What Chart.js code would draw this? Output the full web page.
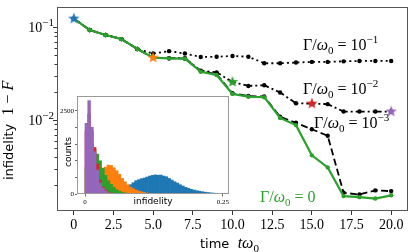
<!DOCTYPE html>
<html>
<head>
<meta charset="utf-8">
<script src="https://cdn.jsdelivr.net/npm/chart.js@4.4.1/dist/chart.umd.min.js"></script>
<style>
  html, body { margin: 0; padding: 0; background: #fff; }
  #wrap { position: relative; width: 415px; height: 252px; }
  #main { position: absolute; left: 0; top: 0; }
  #inset { position: absolute; left: 58px; top: 88px; }
</style>
</head>
<body>
<div id="wrap">
  <canvas id="main" width="415" height="252"></canvas>
  <canvas id="inset" width="176" height="124"></canvas>
</div>
<script>
// main panel: infidelity vs time, one curve per decay rate
const times = [0, 1, 2, 3, 4, 5, 6, 7, 8, 9, 10, 11, 12, 13, 14, 15, 16, 17, 18, 19, 20];
const gammaZero = [0.1244, 0.0937, 0.0829, 0.0748, 0.0586, 0.0472, 0.0464, 0.0460, 0.0333, 0.0307, 0.0192,
  0.0179, 0.0177, 0.01057, 0.00885, 0.00418, 0.00310, 0.00152, 0.00148, 0.00143, 0.00155];
const gamma1e3 = [0.1244, 0.0937, 0.0829, 0.0748, 0.0586, 0.0472, 0.0464, 0.0462, 0.0338, 0.0312, 0.0195,
  0.0182, 0.0180, 0.0109, 0.00937, 0.00798, 0.00679, 0.00165, 0.00158, 0.00175, 0.00172];
const gamma1e2 = [0.1244, 0.0937, 0.0829, 0.0748, 0.0586, 0.0472, 0.0466, 0.0465, 0.0342, 0.0328, 0.0258,
  0.0234, 0.0238, 0.0199, 0.0152, 0.0151, 0.0149, 0.0124, 0.0124, 0.0124, 0.0124];
const gamma1e1 = [0.1244, 0.0937, 0.0829, 0.0748, 0.0586, 0.0523, 0.0555, 0.0523, 0.0480, 0.0483, 0.0492,
  0.0483, 0.0411, 0.0411, 0.0418, 0.0425, 0.0425, 0.0431, 0.0435, 0.0435, 0.0435];
const starTimes = [0, 5, 10, 15, 20];
const starValues = [0.1244, 0.0472, 0.0258, 0.0151, 0.0124];
const starColors = ["#1f77b4", "#ff7f0e", "#2ca02c", "#d62728", "#9467bd"];
const xTicks = [0, 2.5, 5, 7.5, 10, 12.5, 15, 17.5, 20];
const yMajorTicks = [0.01, 0.1];
const yMajorExps = ["\u22122", "\u22121"];
const yMinorTicks = [0.002, 0.003, 0.004, 0.005, 0.006, 0.007, 0.008, 0.009,
  0.02, 0.03, 0.04, 0.05, 0.06, 0.07, 0.08, 0.09];

// inset: histograms of infidelity at t = 0, 5, 10, 15, 20
const binCenters = [0.0025, 0.0075, 0.0125, 0.0175, 0.0225, 0.0275, 0.0325, 0.0375, 0.0425, 0.0475,
  0.0525, 0.0575, 0.0625, 0.0675, 0.0725, 0.0775, 0.0825, 0.0875, 0.0925, 0.0975,
  0.1025, 0.1075, 0.1125, 0.1175, 0.1225, 0.1275, 0.1325, 0.1375, 0.1425, 0.1475,
  0.1525, 0.1575, 0.1625, 0.1675, 0.1725, 0.1775, 0.1825, 0.1875, 0.1925, 0.1975,
  0.2025, 0.2075, 0.2125, 0.2175, 0.2225, 0.2275, 0.2325, 0.2375, 0.2425, 0.2475,
  0.2525, 0.2575];
const countsT0 = [0, 0, 0, 0, 0, 0, 0, 0, 0, 5, 20, 40, 70, 110, 160, 220, 280, 340, 400, 430,
  460, 480, 510, 540, 560, 575, 565, 570, 540, 520, 470, 420, 370, 330, 280, 240, 200, 170, 140, 120,
  100, 85, 70, 55, 45, 35, 28, 22, 15, 10, 6, 3];
const countsT5 = [40, 180, 330, 450, 560, 650, 740, 810, 870, 860, 790, 700, 590, 470, 370, 280, 210,
  160, 120, 90, 65, 45, 30, 20, 10, 5];
const countsT10 = [800, 1500, 1500, 1350, 1200, 1000, 780, 560, 400, 290, 200, 130, 85, 55, 35, 20, 10, 5];
const countsT15 = [1900, 2400, 1900, 1400, 900, 420, 210, 120, 60, 30, 12, 5];
const countsT20 = [2130, 2810, 2010, 1270, 720, 330, 180, 90, 40, 15, 5];
const insetYTicks = [0, 500, 1000, 1500, 2000, 2500];
const insetXTicks = [0, 0.25];

const SERIF = "'Liberation Serif', 'DejaVu Serif', serif";
const SANS = "'DejaVu Sans', sans-serif";

function makeStar(color, r) {
  const c = document.createElement("canvas");
  const s = Math.ceil(r * 2 + 2);
  c.width = s;
  c.height = s;
  const g = c.getContext("2d");
  g.beginPath();
  for (let i = 0; i < 10; i++) {
    const rad = i % 2 ? r * 0.42 : r;
    const a = -Math.PI / 2 + i * Math.PI / 5;
    g.lineTo(s / 2 + rad * Math.cos(a), s / 2 + rad * Math.sin(a));
  }
  g.closePath();
  g.fillStyle = color;
  g.fill();
  return c;
}

// draws text pieces one after another: [text, font, dy]
function drawParts(ctx, parts, x, y, color) {
  ctx.fillStyle = color;
  ctx.textBaseline = "alphabetic";
  ctx.textAlign = "left";
  let cx = x;
  for (const [t, font, dy] of parts) {
    ctx.font = font;
    ctx.fillText(t, cx, y + (dy || 0));
    cx += ctx.measureText(t).width;
  }
  return cx - x;
}

function gammaLabel(exp) {
  const parts = [
    ["\u0393/", "16px " + SERIF],
    ["\u03c9", "italic 16px " + SERIF],
    ["0", "11px " + SERIF, 4],
    [" = " + (exp ? "10" : "0"), "16px " + SERIF],
  ];
  if (exp) parts.push([exp, "11px " + SERIF, -7]);
  return parts;
}

const pts = (vals) => times.map((t, i) => ({ x: t, y: vals[i] }));

const mainDecor = {
  id: "mainDecor",
  afterDraw(chart) {
    const { ctx, chartArea: a, scales: { y } } = chart;
    ctx.save();
    ctx.strokeStyle = "#555";
    ctx.lineWidth = 1;
    ctx.strokeRect(a.left + 0.5, a.top + 0.5, a.right - a.left - 1, a.bottom - a.top - 1);

    ctx.strokeStyle = "#000";
    ctx.lineWidth = 0.8;
    yMinorTicks.forEach((v) => {
      const p = Math.round(y.getPixelForValue(v)) + 0.5;
      ctx.beginPath(); ctx.moveTo(a.left - 2.5, p); ctx.lineTo(a.left, p); ctx.stroke();
    });
    yMajorTicks.forEach((v, i) => {
      const p = Math.round(y.getPixelForValue(v)) + 0.5;
      ctx.beginPath(); ctx.moveTo(a.left - 4, p); ctx.lineTo(a.left, p); ctx.stroke();
      ctx.font = "11px " + SERIF;
      const we = ctx.measureText(yMajorExps[i]).width;
      ctx.font = "14px " + SERIF;
      const wb = ctx.measureText("10").width;
      drawParts(ctx, [["10", "14px " + SERIF], [yMajorExps[i], "11px " + SERIF, -6]],
        a.left - 3 - we - wb, p + 4.5, "#000");
    });

    drawParts(ctx, gammaLabel("\u22121"), 303, 50, "#000");
    drawParts(ctx, gammaLabel("\u22122"), 303, 94, "#000");
    drawParts(ctx, gammaLabel("\u22123"), 314, 128, "#000");
    drawParts(ctx, gammaLabel(null), 260, 201.5, "#2ca02c");

    drawParts(ctx, [["time  ", "13px " + SANS], ["t\u03c9", "italic 16px " + SERIF], ["0", "11px " + SERIF, 4]],
      200, 248, "#000");

    ctx.translate(13, 180);
    ctx.rotate(-Math.PI / 2);
    drawParts(ctx, [["infidelity  ", "13px " + SANS], ["1 \u2212 ", "16px " + SERIF], ["F", "italic 16px " + SERIF]],
      0, 0, "#000");
    ctx.restore();
  },
};

new Chart(document.getElementById("main"), {
  type: "line",
  data: {
    datasets: [
      {
        data: starTimes.map((t, i) => ({ x: t, y: starValues[i] })),
        showLine: false,
        pointStyle: starColors.map((c) => makeStar(c, 6)),
        pointRadius: 6,
      },
      {
        data: pts(gammaZero),
        borderColor: "#2ca02c", backgroundColor: "#2ca02c",
        borderWidth: 2.2, pointRadius: 2.2, pointBorderWidth: 0,
      },
      {
        data: pts(gamma1e3),
        borderColor: "#000", backgroundColor: "#000", borderDash: [7, 3.5],
        borderWidth: 1.8, pointRadius: 2.2, pointBorderWidth: 0,
      },
      {
        data: pts(gamma1e2),
        borderColor: "#000", backgroundColor: "#000", borderDash: [9, 3, 2, 3],
        borderWidth: 1.8, pointRadius: 2.2, pointBorderWidth: 0,
      },
      {
        data: pts(gamma1e1),
        borderColor: "#000", backgroundColor: "#000", borderDash: [2, 3.2],
        borderWidth: 1.8, pointRadius: 2.2, pointBorderWidth: 0,
      },
    ],
  },
  options: {
    responsive: false,
    animation: false,
    layout: { padding: { left: 0, right: 4, top: 3, bottom: 0 } },
    plugins: { legend: { display: false }, tooltip: { enabled: false } },
    elements: { line: { tension: 0 } },
    scales: {
      x: {
        type: "linear", min: -1.06, max: 21.06,
        afterBuildTicks: (s) => { s.ticks = xTicks.map((v) => ({ value: v })); },
        afterFit: (s) => { s.height = 41; },
        ticks: {
          autoSkip: false, maxRotation: 0, padding: 2, color: "#000",
          font: { family: SERIF, size: 14 },
          callback: (v) => (v === 0 ? "0" : v.toFixed(1)),
        },
        grid: { drawOnChartArea: false, drawTicks: true, tickLength: 4, tickColor: "#000", tickWidth: 0.8 },
        border: { display: false },
      },
      y: {
        type: "logarithmic", min: 0.00105, max: 0.166,
        afterBuildTicks: (s) => { s.ticks = yMajorTicks.map((v) => ({ value: v })); },
        afterFit: (s) => { s.width = 57; },
        ticks: { display: false },
        grid: { display: false },
        border: { display: false },
      },
    },
  },
  plugins: [mainDecor],
});

const insetDecor = {
  id: "insetDecor",
  beforeDraw(chart) {
    const { ctx, chartArea: a } = chart;
    ctx.save();
    ctx.fillStyle = "#fff";
    ctx.fillRect(a.left, a.top, a.right - a.left, a.bottom - a.top);
    ctx.restore();
  },
  afterDraw(chart) {
    const { ctx, chartArea: a } = chart;
    ctx.save();
    ctx.strokeStyle = "#999";
    ctx.lineWidth = 1;
    ctx.strokeRect(a.left + 0.5, a.top + 0.5, a.right - a.left - 1, a.bottom - a.top - 1);
    ctx.font = "9px " + SANS;
    ctx.fillStyle = "#000";
    ctx.textAlign = "center";
    ctx.textBaseline = "middle";
    ctx.fillText("infidelity", 95, 114);
    ctx.translate(10.5, 64);
    ctx.rotate(-Math.PI / 2);
    ctx.fillText("counts", 0, 0);
    ctx.restore();
  },
};

const hist = (counts, color) => ({
  data: counts.map((c, i) => ({ x: binCenters[i], y: c })),
  backgroundColor: color,
  borderWidth: 0,
  grouped: false,
  barPercentage: 1,
  categoryPercentage: 1,
});

new Chart(document.getElementById("inset"), {
  type: "bar",
  data: {
    datasets: [
      hist(countsT20, "#9467bd"),
      hist(countsT15, "#d62728"),
      hist(countsT10, "#2ca02c"),
      hist(countsT5, "#ff7f0e"),
      hist(countsT0, "#1f77b4"),
    ],
  },
  options: {
    responsive: false,
    animation: false,
    layout: { padding: { left: 0, right: 5, top: 8, bottom: 0 } },
    plugins: { legend: { display: false }, tooltip: { enabled: false } },
    scales: {
      x: {
        type: "linear", min: -0.0145, max: 0.261, offset: false,
        afterBuildTicks: (s) => { s.ticks = insetXTicks.map((v) => ({ value: v })); },
        afterFit: (s) => { s.height = 18; },
        ticks: {
          autoSkip: false, maxRotation: 0, padding: 1, color: "#000",
          font: { family: SERIF, size: 7 },
          callback: (v) => (v === 0 ? "0" : String(v)),
        },
        grid: { offset: false, drawOnChartArea: false, drawTicks: true, tickLength: 2.5, tickColor: "#000", tickWidth: 0.6 },
        border: { display: false },
      },
      y: {
        min: 0, max: 2950,
        afterBuildTicks: (s) => { s.ticks = insetYTicks.map((v) => ({ value: v })); },
        afterFit: (s) => { s.width = 19; },
        ticks: {
          autoSkip: false, padding: 1, color: "#000",
          font: { family: SERIF, size: 7 },
          callback: (v) => (v === 0 || v === 2500 ? String(v) : ""),
        },
        grid: { drawOnChartArea: false, drawTicks: true, tickLength: 2, tickColor: "#000", tickWidth: 0.6 },
        border: { display: false },
      },
    },
  },
  plugins: [insetDecor],
});
</script>
</body>
</html>
